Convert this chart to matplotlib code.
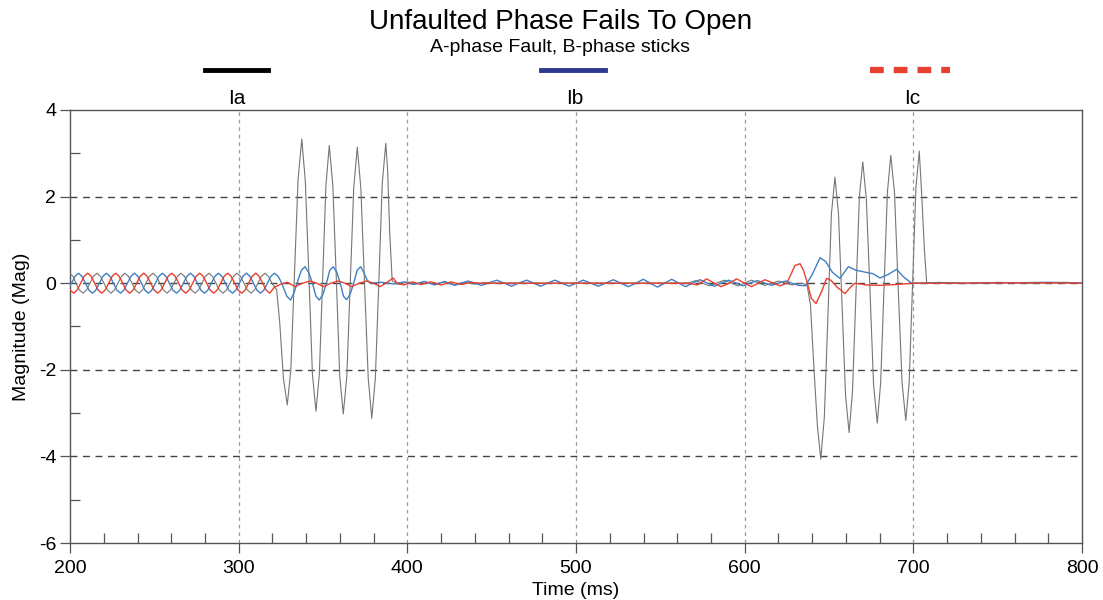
import numpy as np
import matplotlib
matplotlib.use('Agg')
import matplotlib.pyplot as plt
from matplotlib.lines import Line2D

plt.rcParams['font.family'] = ['Liberation Sans', 'DejaVu Sans']
plt.rcParams['axes.unicode_minus'] = False

# Ia (phase A current), time in ms / magnitude
ia_t = [200, 201.7, 203.5, 205.6, 207.7, 209.7, 211.8, 213.9, 216.0, 218.0, 220.1, 222.2,
        224.3, 226.3, 228.4, 230.5, 232.6, 234.6, 236.7, 238.8, 240.9, 242.9, 245.0, 247.1,
        249.2, 251.2, 253.3, 255.4, 257.5, 259.5, 261.6, 263.7, 265.8, 267.8, 269.9, 272.0,
        274.1, 276.1, 278.2, 280.3, 282.4, 284.4, 286.5, 288.6, 290.7, 292.7, 294.8, 296.9,
        299.0, 301.0, 303.1, 305.2, 307.3, 309.3, 311.4, 313.5, 315.6, 317.6, 319.7, 322.5,
        324.3, 326.5, 328.8, 330.9, 333.1, 335.2, 337.4, 339.5, 341.6, 343.7, 345.8,
        347.8, 349.8, 351.7, 353.7, 355.8, 357.9, 359.9, 362.0, 364.1, 366.2, 368.2, 370.3,
        372.4, 374.6, 376.8, 378.9, 381.0, 383.1, 385.1, 387.2, 388.3, 389.5, 391.0,
        395, 400, 405, 410, 416, 422, 428, 434, 440, 446, 455, 490, 530, 566,
        571, 579, 588, 596, 604, 612, 620, 628, 634, 637,
        639, 641.1, 643.1, 645.1, 647.2, 649.3, 651.4, 653.5, 655.6, 657.7, 659.8, 661.9,
        663.9, 665.9, 668.0, 670.0, 672.1, 674.3, 676.4, 678.6, 680.6, 682.6, 684.6, 686.6,
        688.8, 691.0, 693.3, 695.5, 697.5, 699.5, 701.5, 703.5, 705.0, 706.5, 707.9,
        715, 730, 750, 770, 790, 800]
ia_v = [0.22, 0.16, 0, -0.16, -0.23, -0.16, 0, 0.16, 0.23, 0.16, 0, -0.16,
        -0.23, -0.16, 0, 0.16, 0.23, 0.16, 0, -0.16, -0.23, -0.16, 0, 0.16,
        0.23, 0.16, 0, -0.16, -0.23, -0.16, 0, 0.16, 0.23, 0.16, 0, -0.16,
        -0.23, -0.16, 0, 0.16, 0.23, 0.16, 0, -0.16, -0.23, -0.16, 0, 0.16,
        0.23, 0.16, 0, -0.16, -0.23, -0.16, 0, 0.16, 0.23, 0.16, 0, -0.15,
        -0.9, -2.2, -2.81, -2.0, 0.25, 2.4, 3.33, 2.35, 0.2, -2.1, -2.96,
        -2.1, 0.1, 2.25, 3.18, 2.25, 0.08, -2.15, -3.02, -2.15, 0.05, 2.2, 3.14,
        2.2, 0.0, -2.2, -3.12, -2.2, 0.05, 2.3, 3.23, 2.6, 1.2, 0.05,
        -0.03, 0.03, -0.02, 0.04, -0.03, 0.03, -0.03, 0.02, -0.02, 0.01, 0.0, 0.0, 0.0, 0.0,
        0.06, -0.06, 0.07, -0.06, 0.07, -0.05, 0.05, -0.04, 0.0, -0.05,
        -0.5, -2.0, -3.3, -4.06, -3.1, -0.8, 1.6, 2.45, 1.6, -0.5, -2.6, -3.45,
        -2.5, -0.3, 2.0, 2.80, 1.95, -0.2, -2.35, -3.23, -2.3, -0.1, 2.1, 2.95,
        2.1, -0.1, -2.3, -3.17, -2.3, -0.05, 2.2, 3.05, 2.0, 0.8, 0.0,
        0.02, -0.01, 0.02, 0.0, 0.02, 0.0]

# Ib (phase B current)
ib_t = [200, 200.9, 203.0, 205.0, 207.0, 209.1, 211.2, 213.3, 215.3, 217.4, 219.5, 221.6,
        223.6, 225.7, 227.8, 229.9, 231.9, 234.0, 236.1, 238.2, 240.2, 242.3, 244.4, 246.5,
        248.5, 250.6, 252.7, 254.8, 256.8, 258.9, 261.0, 263.1, 265.1, 267.2, 269.3, 271.4,
        273.4, 275.5, 277.6, 279.7, 281.7, 283.8, 285.9, 288.0, 290.0, 292.1, 294.2, 296.3,
        298.3, 300.4, 302.5, 304.6, 306.6, 308.7, 310.8, 312.9, 314.9, 317.0, 319.1, 321.2,
        323.4, 325.5, 328.5, 330.8, 333, 335, 337.2, 339.3, 341.5, 343.7, 345.8, 347.8, 350,
        352, 354, 356.1, 358.2, 360.2, 362.1, 364.0, 366.1, 368.2, 370.2, 372.3, 374.2, 376,
        377.9, 385, 392, 398, 404, 410, 416, 422, 428, 436, 444,
        453, 457.5, 461.8, 466, 470.7, 475, 479, 483, 487.5, 491.7, 495.9, 500, 504.3,
        508.7, 513.2, 517.5, 522.1, 526.5, 531, 535.5, 539.9, 544, 548.3, 552.5, 556.7,
        561, 565, 569, 573.5, 578, 582, 586, 590.5, 595, 599, 603, 607.5, 612, 616,
        620, 624.5, 628, 632, 636, 640, 644.7, 648, 652, 656.5, 661.4, 666, 672, 676,
        680.2, 685, 690.1, 694, 699, 710, 730, 760, 780, 800]
ib_v = [-0.04, 0, 0.16, 0.23, 0.16, 0, -0.16, -0.23, -0.16, 0, 0.16, 0.23,
        0.16, 0, -0.16, -0.23, -0.16, 0, 0.16, 0.23, 0.16, 0, -0.16, -0.23,
        -0.16, 0, 0.16, 0.23, 0.16, 0, -0.16, -0.23, -0.16, 0, 0.16, 0.23,
        0.16, 0, -0.16, -0.23, -0.16, 0, 0.16, 0.23, 0.16, 0, -0.16, -0.23,
        -0.16, 0, 0.16, 0.23, 0.16, 0, -0.16, -0.23, -0.16, 0, 0.16, 0.23,
        0.16, 0.0, -0.3, -0.39, -0.2, 0.05, 0.3, 0.38, 0.25, 0.0, -0.3, -0.39, -0.25,
        0.0, 0.3, 0.38, 0.25, 0.0, -0.3, -0.38, -0.25, 0.0, 0.3, 0.38, 0.25, 0.08,
        0.0, 0.02, -0.02, 0.03, -0.03, 0.04, -0.04, 0.04, -0.05, 0.05, -0.05,
        0.07, 0, -0.07, 0, 0.07, 0, -0.07, 0, 0.07, 0, -0.07, 0, 0.07,
        0, -0.07, 0, 0.08, 0, -0.08, 0, 0.09, 0, -0.09, 0, 0.09,
        0, -0.08, 0, 0.08, 0, -0.07, 0, 0.07, 0, -0.06, 0, 0.06, 0, -0.05,
        0.0, 0.05, 0.0, -0.05, -0.06, 0.2, 0.59, 0.5, 0.25, 0.11, 0.38, 0.3, 0.25, 0.22,
        0.12, 0.2, 0.32, 0.15, 0.0, 0.01, 0.0, 0.01, 0.02, 0.0]

# Ic (phase C current)
ic_t = [200, 202.2, 204.2, 206.3, 208.4, 210.5, 212.5, 214.6, 216.7, 218.8, 220.8, 222.9,
        225.0, 227.1, 229.1, 231.2, 233.3, 235.4, 237.4, 239.5, 241.6, 243.7, 245.7, 247.8,
        249.9, 252.0, 254.0, 256.1, 258.2, 260.3, 262.3, 264.4, 266.5, 268.6, 270.6, 272.7,
        274.8, 276.9, 278.9, 281.0, 283.1, 285.2, 287.2, 289.3, 291.4, 293.5, 295.5, 297.6,
        299.7, 301.8, 303.8, 305.9, 308.0, 310.1, 312.1, 314.2, 316.3, 318.4,
        321, 325, 329, 333.4, 337.8, 342.3, 346.3, 350.2, 354.6, 359.1, 363, 367, 371.5,
        375.9, 380, 383.8, 388, 391.5, 394, 398, 403, 408, 414, 420, 426, 432, 438, 443,
        470, 520, 566, 572, 577.4, 582, 586, 591, 595.2, 600, 604, 608, 612, 617, 621, 625,
        629.8, 632.8, 634.8, 636.7, 639.5, 642.3, 645.5, 648.6, 651, 655, 659.5, 662.5,
        665.4, 672, 680, 690, 700, 720, 760, 800]
ic_v = [-0.16, -0.23, -0.16, 0, 0.16, 0.23, 0.16, 0, -0.16, -0.23, -0.16, 0,
        0.16, 0.23, 0.16, 0, -0.16, -0.23, -0.16, 0, 0.16, 0.23, 0.16, 0,
        -0.16, -0.23, -0.16, 0, 0.16, 0.23, 0.16, 0, -0.16, -0.23, -0.16, 0,
        0.16, 0.23, 0.16, 0, -0.16, -0.23, -0.16, 0, 0.16, 0.23, 0.16, 0,
        -0.16, -0.23, -0.16, 0, 0.16, 0.23, 0.16, 0, -0.16, -0.23,
        -0.1, -0.02, 0.02, -0.08, 0, 0.05, 0, -0.08, 0, 0.05, 0, -0.08, 0,
        0.05, 0, -0.08, 0.02, 0.12, 0.0, -0.04, 0.03, -0.03, 0.03, -0.04, 0.03, -0.03, 0.02, 0.0,
        0.0, 0.0, 0.0, -0.04, 0.1, 0.0, -0.08, 0.0, 0.1, 0.0, -0.08, 0.0, 0.08, 0.0, -0.06, 0.0,
        0.41, 0.45, 0.3, 0.06, -0.35, -0.47, -0.2, 0.11, 0.07, -0.1, -0.24, -0.1,
        0.0, -0.04, -0.05, -0.03, 0.0, 0.0, 0.01, 0.0]

fig = plt.figure(figsize=(11.03, 6), dpi=100)
ax = fig.add_axes([0.0635, 0.095, 0.9175, 0.7217])

ax.plot(ia_t, ia_v, color='#767676', lw=0.8, zorder=3)
ax.plot(ib_t, ib_v, color='#3f7fc4', lw=1.0, zorder=4)
ax.plot(ic_t, ic_v, color='#e8402f', lw=1.0, zorder=5)

ax.set_xlim(200, 800)
ax.set_ylim(-6, 4)
ax.set_xticks([200, 300, 400, 500, 600, 700, 800])
ax.set_xticks(np.arange(220, 800, 20), minor=True)
ax.set_yticks([-6, -4, -2, 0, 2, 4])
ax.set_yticks([-5, -3, -1, 1, 3], minor=True)
ax.tick_params(axis='both', which='major', direction='out', length=7, width=0.9,
               color='#555555', labelsize=14, pad=3)
ax.tick_params(axis='x', which='major', pad=5)
ax.tick_params(axis='both', which='minor', direction='in', length=7, width=0.9, color='#555555')
for s in ax.spines.values():
    s.set_color('#555555')
    s.set_linewidth(1.0)

for x in [300, 400, 500, 600, 700]:
    ax.axvline(x, color='#9a9a9a', lw=0.9, ls=(0, (3, 3)), zorder=1)
for y in [2, 0, -2, -4]:
    ax.axhline(y, color='#444444', lw=1.0, ls=(0, (5, 4)), zorder=1)

ax.set_xlabel('Time (ms)', fontsize=14, labelpad=4)
ax.set_ylabel('Magnitude (Mag)', fontsize=14, labelpad=6)

fig.text(0.508, 0.963, 'Unfaulted Phase Fails To Open', ha='center', va='center', fontsize=20)
fig.text(0.508, 0.921, 'A-phase Fault, B-phase sticks', ha='center', va='center', fontsize=14)

fig.add_artist(Line2D([0.186, 0.243], [0.883, 0.883], color='black', lw=3.5))
fig.add_artist(Line2D([0.4905, 0.5485], [0.883, 0.883], color='#2b3990', lw=3.5))
fig.add_artist(Line2D([0.789, 0.861], [0.883, 0.883], color='#e8402f', lw=4.5, ls=(0, (2.2, 1.6))))
fig.text(0.215, 0.835, 'Ia', ha='center', va='center', fontsize=15)
fig.text(0.521, 0.835, 'Ib', ha='center', va='center', fontsize=15)
fig.text(0.827, 0.835, 'Ic', ha='center', va='center', fontsize=15)

fig.savefig('out.png', dpi=100)
